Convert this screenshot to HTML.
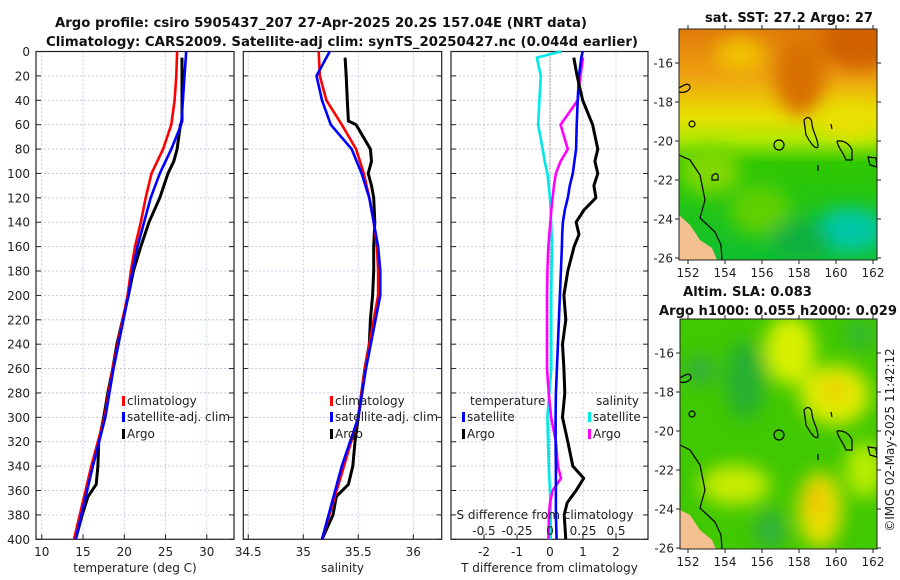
<!DOCTYPE html>
<html><head><meta charset="utf-8">
<style>
html,body{margin:0;padding:0;background:#fff;}
svg{display:block;font-family:"DejaVu Sans","Liberation Sans",sans-serif;}
.t{font-size:12px;fill:#222;}
.b{font-weight:bold;font-size:13px;fill:#111;}
.grid{stroke:#b8c0e0;stroke-width:0.8;stroke-dasharray:2,2;}
</style></head>
<body>
<svg id="fig" width="900" height="580" viewBox="0 0 900 580">
<defs>
<filter id="blur6" x="-30%" y="-30%" width="160%" height="160%"><feGaussianBlur stdDeviation="9"/></filter>
<clipPath id="clipTop"><rect x="679" y="29" width="198" height="231"/></clipPath>
<clipPath id="clipBot"><rect x="680" y="319" width="197" height="230"/></clipPath>
<linearGradient id="sstGrad" x1="0" y1="0" x2="0" y2="1">
<stop offset="0" stop-color="#e07a08"/><stop offset="0.2" stop-color="#eea010"/><stop offset="0.38" stop-color="#e8e000"/>
<stop offset="0.48" stop-color="#b0e800"/><stop offset="0.58" stop-color="#30c800"/><stop offset="1" stop-color="#10c030"/>
</linearGradient>
</defs>
<text class="b" x="55" y="27" textLength="532" lengthAdjust="spacingAndGlyphs">Argo profile: csiro 5905437_207 27-Apr-2025 20.2S 157.04E (NRT data)</text>
<text class="b" x="46" y="46" textLength="592" lengthAdjust="spacingAndGlyphs">Climatology: CARS2009. Satellite-adj clim: synTS_20250427.nc (0.044d earlier)</text>
<g id="plots"></g>
<g>
<g clip-path="url(#clipTop)">
<rect x="679" y="29" width="198" height="231" fill="url(#sstGrad)"/>
<g filter="url(#blur6)">
<ellipse cx="860" cy="40" rx="40" ry="30" fill="#d06000"/>
<ellipse cx="800" cy="75" rx="25" ry="40" fill="#d87000"/>
<ellipse cx="740" cy="55" rx="25" ry="18" fill="#f0c000"/>
<ellipse cx="850" cy="120" rx="30" ry="18" fill="#e8e000"/>
<ellipse cx="850" cy="230" rx="35" ry="22" fill="#00c8a8"/>
<ellipse cx="710" cy="170" rx="30" ry="25" fill="#80d800"/>
<ellipse cx="760" cy="210" rx="30" ry="25" fill="#60d000"/>
<ellipse cx="800" cy="240" rx="30" ry="20" fill="#10b040"/>
</g>
</g>
<polygon points="679,215 690,225 700,240 712,248 717,260 679,260" fill="#f5c090"/>
<g fill="none" stroke="#000" stroke-width="1.2">
<path d="M679,155 L690,160 L700,175 L705,200 L700,218 L715,232 L721,245 L722,260"/>
<path d="M679,88 C685,84 690,82 690,88 C688,92 683,93 679,92"/>
<path d="M804,120 C808,115 812,118 812,125 C814,135 818,138 818,147 C815,150 810,142 806,135 Z"/>
<circle cx="779" cy="145" r="5"/><circle cx="692" cy="124" r="3"/>
<path d="M831,124 L832,129"/><path d="M818,165 L818,171"/>
<path d="M837,141 C845,140 850,145 852,150 L852,160 L846,160 C842,150 838,148 837,141"/>
<path d="M868,157 L876,158 L877,167 L870,165 Z"/>
<path d="M712,176 C716,172 719,173 718,180 L712,180 Z"/>
</g>
</g>
<g>
<g clip-path="url(#clipBot)">
<rect x="680" y="319" width="197" height="230" fill="#40c800"/>
<g filter="url(#blur6)">
<ellipse cx="790" cy="350" rx="25" ry="35" fill="#d8f000"/>
<ellipse cx="835" cy="395" rx="35" ry="30" fill="#e0ec00"/>
<ellipse cx="835" cy="390" rx="12" ry="10" fill="#f0c800"/>
<ellipse cx="820" cy="510" rx="22" ry="38" fill="#e8e000"/>
<ellipse cx="815" cy="500" rx="9" ry="18" fill="#f0c000"/>
<ellipse cx="735" cy="485" rx="35" ry="20" fill="#c8ec00"/>
<ellipse cx="865" cy="470" rx="20" ry="28" fill="#b8ec00"/>
<ellipse cx="745" cy="380" rx="20" ry="40" fill="#28b030"/>
<ellipse cx="700" cy="370" rx="15" ry="15" fill="#30b040"/>
<ellipse cx="770" cy="530" rx="15" ry="20" fill="#30b040"/>
<ellipse cx="860" cy="335" rx="15" ry="15" fill="#30b830"/>
</g>
</g>
<polygon points="680,510 690,515 700,530 712,540 716,549 680,549" fill="#f5c090"/>
<g fill="none" stroke="#000" stroke-width="1.2">
<path d="M680,445 L690,450 L700,465 L705,490 L700,508 L715,522 L721,535 L722,549"/>
<path d="M680,378 C686,374 691,372 691,378 C689,382 684,383 680,382"/>
<path d="M804,410 C808,405 812,408 812,415 C814,425 818,428 818,437 C815,440 810,432 806,425 Z"/>
<circle cx="779" cy="435" r="5"/><circle cx="692" cy="414" r="3"/>
<path d="M831,412 L832,417"/><path d="M818,454 L818,460"/>
<path d="M837,431 C845,430 850,435 852,440 L852,450 L846,450 C842,440 838,438 837,431"/>
<path d="M868,447 L876,448 L877,457 L870,455 Z"/>
</g>
</g>
<text class="b" x="789" y="22" text-anchor="middle" textLength="168" lengthAdjust="spacingAndGlyphs">sat. SST: 27.2 Argo: 27</text>
<text class="b" x="683" y="296" textLength="129" lengthAdjust="spacingAndGlyphs">Altim. SLA: 0.083</text>
<text class="b" x="659" y="315" textLength="238" lengthAdjust="spacingAndGlyphs">Argo h1000: 0.055 h2000: 0.029</text>
<text class="t" transform="translate(894,440) rotate(-90)" text-anchor="middle">©IMOS 02-May-2025 11:42:12</text>
<g id="maps"></g>
</svg>
<script>
const depthTicks = [0,20,40,60,80,100,120,140,160,180,200,220,240,260,280,300,320,340,360,380,400];
const tempTicks = [10,15,20,25,30];
const salTicks = [34.5,35,35.5,36];
const diffTicks = [-2,-1,0,1,2];
const sdiffTicks = [-0.5,-0.25,0,0.25,0.5];
const sdiffTickLabels = ["-0.5","-0.25","0","0.25","0.5"];

const climDepth = [0,20,40,60,80,100,120,140,160,180,200,260,300,340,400];
const tempClim = [26.4,26.3,26.1,25.7,24.7,23.3,22.6,22.0,21.3,20.8,20.4,18.6,17.6,16.0,13.9];
const tempSat  = [27.5,27.3,27.1,26.9,25.7,24.3,23.2,22.4,21.6,21.0,20.5,18.7,17.7,16.2,14.1];
const salClim  = [35.14,35.15,35.21,35.35,35.48,35.55,35.60,35.64,35.67,35.68,35.68,35.56,35.50,35.37,35.17];
const salSat   = [35.24,35.12,35.17,35.25,35.44,35.53,35.60,35.64,35.68,35.70,35.70,35.57,35.50,35.35,35.17];

const argoDepth = [5,20,40,57,60,80,90,100,110,120,140,160,180,200,220,240,260,280,300,320,340,355,365,380,400];
const tempArgo  = [27.0,27.0,27.0,27.0,26.8,26.4,26.0,25.3,24.8,24.3,23.0,22.0,21.1,20.5,19.8,19.1,18.6,18.0,17.5,16.9,16.8,16.6,15.6,14.9,14.1];
const salArgo   = [35.38,35.39,35.40,35.41,35.48,35.61,35.62,35.59,35.62,35.64,35.65,35.64,35.64,35.63,35.61,35.60,35.56,35.53,35.50,35.47,35.45,35.41,35.30,35.27,35.17];

const dDepth = [0,5,20,40,60,80,90,100,110,120,130,140,150,160,180,200,220,240,260,280,300,320,340,350,360,370,380,400];
const tDiffArgo = [null,0.72,0.82,0.99,1.29,1.45,1.36,1.45,1.33,1.39,1.03,0.79,0.88,0.73,0.54,0.42,0.48,0.38,0.42,0.45,0.38,0.54,0.69,1.02,0.79,0.52,0.43,0.48];
const tDiffSat  = [0.99,0.95,0.88,0.84,0.81,0.79,0.74,0.69,0.60,0.54,0.45,0.39,0.37,0.36,0.33,0.30,0.27,0.24,0.21,0.18,0.17,0.17,0.18,0.18,0.18,0.18,0.18,0.20];
const sDiffArgo = [null,0.25,0.23,0.21,0.08,0.135,0.08,0.045,0.03,0.02,0.01,0.003,-0.005,-0.013,-0.02,-0.023,-0.023,-0.023,-0.023,-0.01,0.008,0.045,0.06,0.083,0.02,0.0,-0.008,-0.012];
const sDiffSat  = [0.083,-0.1,-0.07,-0.08,-0.09,-0.055,-0.04,-0.02,-0.01,0.0,0.005,0.008,0.012,0.015,0.012,0.01,0.01,0.01,0.01,-0.005,-0.02,-0.015,-0.01,-0.005,0.0,0.003,0.005,0.005];

const lonTicks = [152,154,156,158,160,162];
const latTicks = [-16,-18,-20,-22,-24,-26];

const NS = "http://www.w3.org/2000/svg";
const root = document.getElementById('plots');
function mk(tag, attrs, parent, txt){
  const e = document.createElementNS(NS, tag);
  for (const k in attrs) e.setAttribute(k, attrs[k]);
  if (txt !== undefined) e.textContent = txt;
  (parent||root).appendChild(e);
  return e;
}
const Y0 = 51.5, Y1 = 539.3;
const yD = d => Y0 + (Y1 - Y0) * d / 400;

function panel(name, x0, x1, vmin, vmax, ticks, tickFmt, xlabel){
  const g = mk('g', {});
  
  
  const sx = v => x0 + (x1 - x0) * (v - vmin) / (vmax - vmin);
  depthTicks.forEach(d => {
    const l = mk('line', {x1:x0, x2:x1, y1:yD(d), y2:yD(d), class:'grid'}, g);
    
    
    mk('line', {x1:x0, x2:x0+5, y1:yD(d), y2:yD(d), stroke:'#222'}, g);
    mk('line', {x1:x1-5, x2:x1, y1:yD(d), y2:yD(d), stroke:'#222'}, g);
  });
  ticks.forEach((v,i) => {
    const l = mk('line', {x1:sx(v), x2:sx(v), y1:Y0, y2:Y1, class:'grid'}, g);
    
    
    mk('line', {x1:sx(v), x2:sx(v), y1:Y1, y2:Y1-5, stroke:'#222'}, g);
    const t = mk('text', {x:sx(v), y:556, class:'t', 'text-anchor':'middle'}, g, tickFmt(v,i));
    
    
  });
  const r = mk('rect', {x:x0, y:Y0, width:x1-x0, height:Y1-Y0, fill:'none', stroke:'#222', 'stroke-width':1.2}, g);
  
  
  const xl = mk('text', {x:(x0+x1)/2, y:572, class:'t', 'text-anchor':'middle'}, g, xlabel);
  
  
  return {g, sx};
}
function line(p, depths, vals, color, name, w, scale){
  let d = '';
  let pen = false;
  depths.forEach((dep,i) => {
    const v = vals[i];
    if (v === null) { pen = false; return; }
    d += (pen ? 'L' : 'M') + p.sx(v*(scale||1)).toFixed(1) + ',' + yD(dep).toFixed(1);
    pen = true;
  });
  const e = mk('path', {d, fill:'none', stroke:color, 'stroke-width':w||2.6, 'stroke-linejoin':'round'}, p.g);
  
  
}
function legend(g, x, y, color, label, name){
  mk('rect', {x:x, y:y-9, width:3, height:10, fill:color}, g);
  const t = mk('text', {x:x+5, y:y, class:'t', 'font-size':'13'}, g, label);
  
  
}

depthTicks.forEach(d => {
  const t = mk('text', {x:30, y:yD(d)+4.5, class:'t', 'text-anchor':'end'}, root, String(d));
  
  
});

const pT = panel('temperature-panel', 36, 234, 9.3, 33.3, tempTicks, v => String(v), 'temperature (deg C)');
line(pT, argoDepth, tempArgo, '#000', 'temp-argo-line', 3);
line(pT, climDepth, tempClim, '#ff0000', 'temp-clim-line');
line(pT, climDepth, tempSat, '#0000ff', 'temp-sat-line');
legend(pT.g, 122, 405, '#ff0000', 'climatology', 'legend-climatology');
legend(pT.g, 122, 421, '#0000ff', 'satellite-adj. clim', 'legend-satellite-adj');
legend(pT.g, 122, 438, '#000', 'Argo', 'legend-argo');

const pS = panel('salinity-panel', 243.3, 441.7, 34.455, 36.258, salTicks, v => String(v), 'salinity');
line(pS, argoDepth, salArgo, '#000', 'sal-argo-line', 3);
line(pS, climDepth, salClim, '#ff0000', 'sal-clim-line');
line(pS, climDepth, salSat, '#0000ff', 'sal-sat-line');
legend(pS.g, 330, 405, '#ff0000', 'climatology', 'legend-climatology-sal');
legend(pS.g, 330, 421, '#0000ff', 'satellite-adj. clim', 'legend-satellite-adj-sal');
legend(pS.g, 330, 438, '#000', 'Argo', 'legend-argo-sal');

const pD = panel('difference-panel', 451, 648, -3.0, 2.97, diffTicks, v => String(v), 'T difference from climatology');
mk('line', {x1:pD.sx(0), x2:pD.sx(0), y1:Y0, y2:Y1, stroke:'#555', 'stroke-width':1, 'stroke-dasharray':'1,2'}, pD.g);
line(pD, dDepth, sDiffSat, '#00e8e8', 'sdiff-sat-line', 2.6, 4);
line(pD, dDepth, sDiffArgo, '#ff00ff', 'sdiff-argo-line', 2.6, 4);
line(pD, dDepth, tDiffSat, '#0000ff', 'tdiff-sat-line');
line(pD, dDepth, tDiffArgo, '#000', 'tdiff-argo-line', 3);
const tl = mk('text', {x:470, y:405, class:'t', 'font-size':'13'}, pD.g, 'temperature');


const sl = mk('text', {x:596, y:405, class:'t', 'font-size':'13'}, pD.g, 'salinity');


legend(pD.g, 462, 421, '#0000ff', 'satellite', 'legend-t-satellite');
legend(pD.g, 462, 438, '#000', 'Argo', 'legend-t-argo');
legend(pD.g, 588, 421, '#00e8e8', 'satellite', 'legend-s-satellite');
legend(pD.g, 588, 438, '#ff00ff', 'Argo', 'legend-s-argo');
const st = mk('text', {x:545, y:519, class:'t', 'font-size':'13', 'text-anchor':'middle'}, pD.g, 'S difference from climatology');


sdiffTicks.forEach((v,i) => {
  const t = mk('text', {x:pD.sx(v*4), y:535, class:'t', 'text-anchor':'middle'}, pD.g, sdiffTickLabels[i]);
  
  
});

const maps = document.getElementById('maps');
function mapAxes(name, x0, x1, yTop, yBot, latY16, latY26){
  const g = mk('g', {}, maps);
  
  
  const lx = v => 688 + (v - 152) * 18.5;
  const ly = v => latY16 + (-16 - v) * (latY26 - latY16) / 10;
  mk('rect', {x:x0, y:yTop, width:x1-x0, height:yBot-yTop, fill:'none', stroke:'#222', 'stroke-width':1}, g);
  lonTicks.forEach(v => {
    mk('line', {x1:lx(v), x2:lx(v), y1:yBot, y2:yBot+4, stroke:'#222'}, g);
    mk('line', {x1:lx(v), x2:lx(v), y1:yTop, y2:yTop-4, stroke:'#222'}, g);
    const t = mk('text', {x:lx(v), y:yBot+17, class:'t', 'text-anchor':'middle'}, g, String(v));
    
    
  });
  latTicks.forEach(v => {
    mk('line', {x1:x0-4, x2:x0, y1:ly(v), y2:ly(v), stroke:'#222'}, g);
    mk('line', {x1:x1, x2:x1+4, y1:ly(v), y2:ly(v), stroke:'#222'}, g);
    const t = mk('text', {x:x0-6, y:ly(v)+4.5, class:'t', 'text-anchor':'end'}, g, String(v));
    
    
  });
}
mapAxes('sst-map-axes', 679, 877, 29, 260, 63, 258);
mapAxes('sla-map-axes', 680, 877, 319, 549, 353, 548);
</script>
</body></html>
